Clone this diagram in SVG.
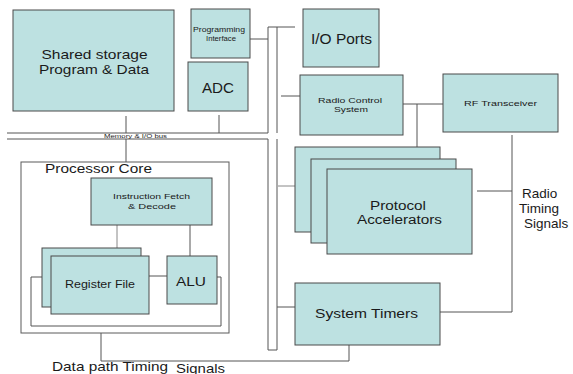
<svg xmlns="http://www.w3.org/2000/svg" width="573" height="374" viewBox="0 0 573 374">
<style>
.box{fill:#bde1e1;stroke:#4a4a4a;stroke-width:1}
.frame{fill:none;stroke:#5a5a5a;stroke-width:1}
.ln{fill:none;stroke:#555;stroke-width:1}
.lg{fill:none;stroke:#888;stroke-width:1}
text{font-family:"Liberation Sans",Arial,sans-serif;fill:#1a1a1a}
.c{text-anchor:middle}
</style>
<rect width="573" height="374" fill="#ffffff"/>
<g id="connectors">
  <path class="ln" d="M7 133 H268 V27 H277 M7 139 H268 V350 H277 V139 M277 27 V133"/>
  <path class="ln" d="M126 116 V133 M219 115 V133 M126 139 V162"/>
  <path class="ln" d="M250 39 H268"/>
  <path class="ln" d="M277 27 H295"/>
  <path class="ln" d="M281 96 H300"/>
  <path class="lg" d="M278 186 H295"/>
  <path class="ln" d="M277 307 H295"/>
  <path class="ln" d="M403 104 H443 M417 104 V147"/>
  <path class="ln" d="M512 135 V312 H440 M477 191 H512"/>
  <path class="ln" d="M349 345 V361 H101 V333"/>
  <path class="lg" d="M117 225 V248"/>
  <path class="ln" d="M190 225 V256"/>
  <path class="ln" d="M149 276 H167"/>
  <path class="ln" d="M42 277 H31 V326 H221 V277 H217"/>
</g>
<g id="shared-storage">
  <rect class="box" x="13" y="10" width="161" height="101"/>
  <text class="c" x="94.5" y="58.5" font-size="13.5" textLength="106" lengthAdjust="spacingAndGlyphs">Shared storage</text>
  <text class="c" x="94" y="73.5" font-size="13.5" textLength="110" lengthAdjust="spacingAndGlyphs">Program &amp; Data</text>
</g>
<g id="programming-interface">
  <rect class="box" x="191" y="9" width="59" height="49"/>
  <text class="c" x="219" y="32" font-size="7.5" textLength="52" lengthAdjust="spacingAndGlyphs">Programming</text>
  <text class="c" x="221" y="41" font-size="7.5" textLength="30" lengthAdjust="spacingAndGlyphs">Interface</text>
</g>
<g id="adc">
  <rect class="box" x="188" y="62" width="60" height="49"/>
  <text class="c" x="218" y="93" font-size="14" textLength="32" lengthAdjust="spacingAndGlyphs">ADC</text>
</g>
<g id="bus-label">
  <text class="c" x="135.5" y="138" font-size="6" textLength="63" lengthAdjust="spacingAndGlyphs">Memory &amp; I/O bus</text>
</g>
<g id="io-ports">
  <rect class="box" x="303" y="9" width="76" height="58"/>
  <text class="c" x="341.5" y="44" font-size="14" textLength="61" lengthAdjust="spacingAndGlyphs">I/O Ports</text>
</g>
<g id="radio-control">
  <rect class="box" x="300" y="75" width="103" height="60"/>
  <text class="c" x="350" y="103" font-size="8" textLength="64" lengthAdjust="spacingAndGlyphs">Radio Control</text>
  <text class="c" x="351" y="112" font-size="8" textLength="34" lengthAdjust="spacingAndGlyphs">System</text>
</g>
<g id="rf-transceiver">
  <rect class="box" x="443" y="74" width="115" height="58"/>
  <text class="c" x="500.5" y="106" font-size="8" textLength="73" lengthAdjust="spacingAndGlyphs">RF Transceiver</text>
</g>
<g id="protocol-accelerators">
  <rect class="box" x="295" y="147" width="145" height="85"/>
  <rect class="box" x="311" y="159" width="145" height="84"/>
  <rect class="box" x="327" y="169" width="145" height="85"/>
  <text class="c" x="398" y="209.5" font-size="12.5" textLength="56" lengthAdjust="spacingAndGlyphs">Protocol</text>
  <text class="c" x="399.5" y="223.5" font-size="12.5" textLength="85" lengthAdjust="spacingAndGlyphs">Accelerators</text>
</g>
<g id="system-timers">
  <rect class="box" x="295" y="283" width="145" height="62"/>
  <text class="c" x="366.5" y="318" font-size="13.5" textLength="103" lengthAdjust="spacingAndGlyphs">System Timers</text>
</g>
<g id="radio-timing-label">
  <text x="522" y="198" font-size="13.5">Radio</text>
  <text x="519" y="213" font-size="13.5">Timing</text>
  <text x="524" y="228" font-size="13.5">Signals</text>
</g>
<g id="processor-core">
  <rect class="frame" x="21" y="162" width="208" height="171"/>
  <text x="45" y="173" font-size="13.5" textLength="107" lengthAdjust="spacingAndGlyphs">Processor Core</text>
</g>
<g id="instruction-fetch">
  <rect class="box" x="91" y="178" width="121" height="47"/>
  <text class="c" x="151.5" y="199" font-size="8" textLength="77" lengthAdjust="spacingAndGlyphs">Instruction Fetch</text>
  <text class="c" x="152" y="209" font-size="8" textLength="48" lengthAdjust="spacingAndGlyphs">&amp; Decode</text>
</g>
<g id="register-file">
  <rect class="box" x="42" y="248" width="99" height="59"/>
  <rect class="box" x="51" y="256" width="98" height="58"/>
  <text class="c" x="100" y="288" font-size="10" textLength="70" lengthAdjust="spacingAndGlyphs">Register File</text>
</g>
<g id="alu">
  <rect class="box" x="167" y="256" width="50" height="48"/>
  <text class="c" x="191" y="286" font-size="13.5" textLength="30" lengthAdjust="spacingAndGlyphs">ALU</text>
</g>
<g id="datapath-label">
  <text x="52" y="371" font-size="13.5" textLength="116" lengthAdjust="spacingAndGlyphs">Data path Timing</text>
  <text x="176" y="372.5" font-size="13.5" textLength="49" lengthAdjust="spacingAndGlyphs">Signals</text>
</g>
</svg>
